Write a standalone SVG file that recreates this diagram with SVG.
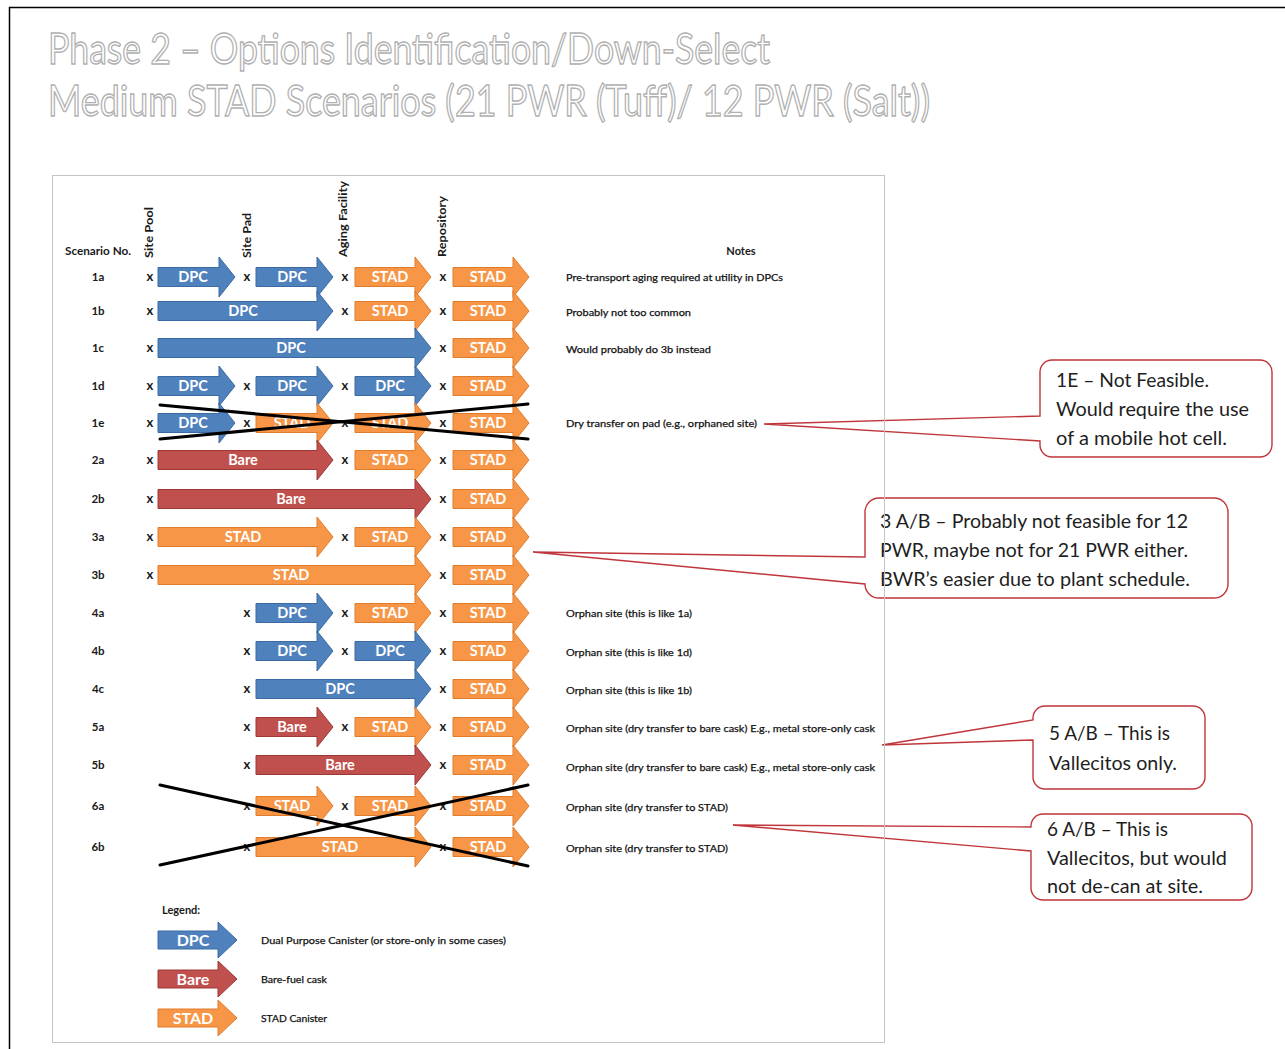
<svg xmlns="http://www.w3.org/2000/svg" xmlns:xlink="http://www.w3.org/1999/xlink" width="1285" height="1049" viewBox="0 0 1285 1049">
  <style>
    text { font-family: Lato, "Open Sans", "Liberation Sans", sans-serif; }
    .title { font-size: 42px; fill: #ffffff; stroke: #b0b0b0; stroke-width: 1.4; }
    .hdr { font-size: 11px; font-weight: bold; fill: #1a1a1a; }
    .rowlbl { font-size: 11.5px; font-weight: bold; fill: #1a1a1a; text-anchor: middle; }
    .xm { font-size: 13px; font-weight: bold; fill: #1a1a1a; text-anchor: middle; }
    .lbl { font-size: 14.5px; font-weight: bold; fill: #ffffff; text-anchor: middle; }
    .lgl { font-size: 16px; font-weight: bold; fill: #ffffff; text-anchor: middle; }
    .note { font-size: 10px; fill: #111; stroke: #111; stroke-width: 0.25; }
    .dpc { fill: #4f81bd; stroke: #3b6aa3; stroke-width: 1; }
    .bare { fill: #c0504d; stroke: #9c3835; stroke-width: 1; }
    .stad { fill: #f79646; stroke: #df7c2c; stroke-width: 1; }
    .strike { stroke: #000; stroke-width: 3; stroke-linecap: round; }
    .callout { fill: #ffffff; stroke: #c0353a; stroke-width: 1.4; }
    .ctext { font-size: 20px; fill: #1e1e1e; }
  </style>
  <defs>
    <!-- arrow shapes, drawn around y = 0 -->
    <path id="aA" d="M158 -9.5H219V-20L235 0L219 20V9.5H158Z"/>
    <path id="aB" d="M256 -9.5H317V-20L333 0L317 20V9.5H256Z"/>
    <path id="aC" d="M355 -9.5H415V-20L431 0L415 20V9.5H355Z"/>
    <path id="aD" d="M453 -9.5H513V-20L529 0L513 20V9.5H453Z"/>
    <path id="aE" d="M158 -9.5H317V-20L333 0L317 20V9.5H158Z"/>
    <path id="aF" d="M158 -9.5H415V-20L431 0L415 20V9.5H158Z"/>
    <path id="aG" d="M256 -9.5H415V-20L431 0L415 20V9.5H256Z"/>
    <path id="aL" d="M158 -9H218V-18L237 0L218 18V9H158Z"/>
  </defs>

  <rect width="1285" height="1049" fill="#ffffff"/>
  <!-- slide frame -->
  <path d="M9.5 1049V7.5H1285" fill="none" stroke="#000" stroke-width="1.5"/>

  <!-- title -->
  <g id="title">
    <text class="title" x="48" y="64" textLength="722" lengthAdjust="spacingAndGlyphs">Phase 2 – Options Identification/Down-Select</text>
    <text class="title" x="48" y="116" textLength="882" lengthAdjust="spacingAndGlyphs">Medium STAD Scenarios (21 PWR (Tuff)/ 12 PWR (Salt))</text>
  </g>

  <!-- table header -->
  <g id="header">
    <text class="hdr" x="65" y="255" textLength="66" lengthAdjust="spacingAndGlyphs">Scenario No.</text>
    <text class="hdr" transform="translate(153,258) rotate(-90)" textLength="51" lengthAdjust="spacingAndGlyphs">Site Pool</text>
    <text class="hdr" transform="translate(251,258) rotate(-90)" textLength="45" lengthAdjust="spacingAndGlyphs">Site Pad</text>
    <text class="hdr" transform="translate(347,257) rotate(-90)" textLength="76" lengthAdjust="spacingAndGlyphs">Aging Facility</text>
    <text class="hdr" transform="translate(446,257) rotate(-90)" textLength="61" lengthAdjust="spacingAndGlyphs">Repository</text>
    <text class="hdr" x="741" y="255" text-anchor="middle">Notes</text>
  </g>

  <!-- scenario rows -->
  <g id="row-1a" transform="translate(0,277)">
    <text class="rowlbl" x="98" y="4">1a</text>
    <text class="xm" x="150" y="4">x</text>
    <use xlink:href="#aA" class="dpc"/><text class="lbl" x="193" y="5">DPC</text>
    <text class="xm" x="247" y="4">x</text>
    <use xlink:href="#aB" class="dpc"/><text class="lbl" x="292" y="5">DPC</text>
    <text class="xm" x="345" y="4">x</text>
    <use xlink:href="#aC" class="stad"/><text class="lbl" x="390" y="5">STAD</text>
    <text class="xm" x="443" y="4">x</text>
    <use xlink:href="#aD" class="stad"/><text class="lbl" x="488" y="5">STAD</text>
    <text class="note" x="566" y="4" textLength="217" lengthAdjust="spacingAndGlyphs">Pre-transport aging required at utility in DPCs</text>
  </g>
  <g id="row-1b" transform="translate(0,311)">
    <text class="rowlbl" x="98" y="4">1b</text>
    <text class="xm" x="150" y="4">x</text>
    <use xlink:href="#aE" class="dpc"/><text class="lbl" x="243" y="5">DPC</text>
    <text class="xm" x="345" y="4">x</text>
    <use xlink:href="#aC" class="stad"/><text class="lbl" x="390" y="5">STAD</text>
    <text class="xm" x="443" y="4">x</text>
    <use xlink:href="#aD" class="stad"/><text class="lbl" x="488" y="5">STAD</text>
    <text class="note" x="566" y="5" textLength="125" lengthAdjust="spacingAndGlyphs">Probably not too common</text>
  </g>
  <g id="row-1c" transform="translate(0,348)">
    <text class="rowlbl" x="98" y="4">1c</text>
    <text class="xm" x="150" y="4">x</text>
    <use xlink:href="#aF" class="dpc"/><text class="lbl" x="291" y="5">DPC</text>
    <text class="xm" x="443" y="4">x</text>
    <use xlink:href="#aD" class="stad"/><text class="lbl" x="488" y="5">STAD</text>
    <text class="note" x="566" y="5" textLength="145" lengthAdjust="spacingAndGlyphs">Would probably do 3b instead</text>
  </g>
  <g id="row-1d" transform="translate(0,386)">
    <text class="rowlbl" x="98" y="4">1d</text>
    <text class="xm" x="150" y="4">x</text>
    <use xlink:href="#aA" class="dpc"/><text class="lbl" x="193" y="5">DPC</text>
    <text class="xm" x="247" y="4">x</text>
    <use xlink:href="#aB" class="dpc"/><text class="lbl" x="292" y="5">DPC</text>
    <text class="xm" x="345" y="4">x</text>
    <use xlink:href="#aC" class="dpc"/><text class="lbl" x="390" y="5">DPC</text>
    <text class="xm" x="443" y="4">x</text>
    <use xlink:href="#aD" class="stad"/><text class="lbl" x="488" y="5">STAD</text>
  </g>
  <g id="row-1e" transform="translate(0,423)">
    <text class="rowlbl" x="98" y="4">1e</text>
    <text class="xm" x="150" y="4">x</text>
    <use xlink:href="#aA" class="dpc"/><text class="lbl" x="193" y="5">DPC</text>
    <text class="xm" x="247" y="4">x</text>
    <use xlink:href="#aB" class="stad"/><text class="lbl" x="292" y="5">STAD</text>
    <text class="xm" x="345" y="4">x</text>
    <use xlink:href="#aC" class="stad"/><text class="lbl" x="390" y="5">STAD</text>
    <text class="xm" x="443" y="4">x</text>
    <use xlink:href="#aD" class="stad"/><text class="lbl" x="488" y="5">STAD</text>
    <text class="note" x="566" y="4" textLength="191" lengthAdjust="spacingAndGlyphs">Dry transfer on pad (e.g., orphaned site)</text>
  </g>
  <g id="row-2a" transform="translate(0,460)">
    <text class="rowlbl" x="98" y="4">2a</text>
    <text class="xm" x="150" y="4">x</text>
    <use xlink:href="#aE" class="bare"/><text class="lbl" x="243" y="5">Bare</text>
    <text class="xm" x="345" y="4">x</text>
    <use xlink:href="#aC" class="stad"/><text class="lbl" x="390" y="5">STAD</text>
    <text class="xm" x="443" y="4">x</text>
    <use xlink:href="#aD" class="stad"/><text class="lbl" x="488" y="5">STAD</text>
  </g>
  <g id="row-2b" transform="translate(0,499)">
    <text class="rowlbl" x="98" y="4">2b</text>
    <text class="xm" x="150" y="4">x</text>
    <use xlink:href="#aF" class="bare"/><text class="lbl" x="291" y="5">Bare</text>
    <text class="xm" x="443" y="4">x</text>
    <use xlink:href="#aD" class="stad"/><text class="lbl" x="488" y="5">STAD</text>
  </g>
  <g id="row-3a" transform="translate(0,537)">
    <text class="rowlbl" x="98" y="4">3a</text>
    <text class="xm" x="150" y="4">x</text>
    <use xlink:href="#aE" class="stad"/><text class="lbl" x="243" y="5">STAD</text>
    <text class="xm" x="345" y="4">x</text>
    <use xlink:href="#aC" class="stad"/><text class="lbl" x="390" y="5">STAD</text>
    <text class="xm" x="443" y="4">x</text>
    <use xlink:href="#aD" class="stad"/><text class="lbl" x="488" y="5">STAD</text>
  </g>
  <g id="row-3b" transform="translate(0,575)">
    <text class="rowlbl" x="98" y="4">3b</text>
    <text class="xm" x="150" y="4">x</text>
    <use xlink:href="#aF" class="stad"/><text class="lbl" x="291" y="5">STAD</text>
    <text class="xm" x="443" y="4">x</text>
    <use xlink:href="#aD" class="stad"/><text class="lbl" x="488" y="5">STAD</text>
  </g>
  <g id="row-4a" transform="translate(0,613)">
    <text class="rowlbl" x="98" y="4">4a</text>
    <text class="xm" x="247" y="4">x</text>
    <use xlink:href="#aB" class="dpc"/><text class="lbl" x="292" y="5">DPC</text>
    <text class="xm" x="345" y="4">x</text>
    <use xlink:href="#aC" class="stad"/><text class="lbl" x="390" y="5">STAD</text>
    <text class="xm" x="443" y="4">x</text>
    <use xlink:href="#aD" class="stad"/><text class="lbl" x="488" y="5">STAD</text>
    <text class="note" x="566" y="4" textLength="126" lengthAdjust="spacingAndGlyphs">Orphan site (this is like 1a)</text>
  </g>
  <g id="row-4b" transform="translate(0,651)">
    <text class="rowlbl" x="98" y="4">4b</text>
    <text class="xm" x="247" y="4">x</text>
    <use xlink:href="#aB" class="dpc"/><text class="lbl" x="292" y="5">DPC</text>
    <text class="xm" x="345" y="4">x</text>
    <use xlink:href="#aC" class="dpc"/><text class="lbl" x="390" y="5">DPC</text>
    <text class="xm" x="443" y="4">x</text>
    <use xlink:href="#aD" class="stad"/><text class="lbl" x="488" y="5">STAD</text>
    <text class="note" x="566" y="5" textLength="126" lengthAdjust="spacingAndGlyphs">Orphan site (this is like 1d)</text>
  </g>
  <g id="row-4c" transform="translate(0,689)">
    <text class="rowlbl" x="98" y="4">4c</text>
    <text class="xm" x="247" y="4">x</text>
    <use xlink:href="#aG" class="dpc"/><text class="lbl" x="340" y="5">DPC</text>
    <text class="xm" x="443" y="4">x</text>
    <use xlink:href="#aD" class="stad"/><text class="lbl" x="488" y="5">STAD</text>
    <text class="note" x="566" y="5" textLength="126" lengthAdjust="spacingAndGlyphs">Orphan site (this is like 1b)</text>
  </g>
  <g id="row-5a" transform="translate(0,727)">
    <text class="rowlbl" x="98" y="4">5a</text>
    <text class="xm" x="247" y="4">x</text>
    <use xlink:href="#aB" class="bare"/><text class="lbl" x="292" y="5">Bare</text>
    <text class="xm" x="345" y="4">x</text>
    <use xlink:href="#aC" class="stad"/><text class="lbl" x="390" y="5">STAD</text>
    <text class="xm" x="443" y="4">x</text>
    <use xlink:href="#aD" class="stad"/><text class="lbl" x="488" y="5">STAD</text>
    <text class="note" x="566" y="5" textLength="309" lengthAdjust="spacingAndGlyphs">Orphan site (dry transfer to bare cask) E.g., metal store-only cask</text>
  </g>
  <g id="row-5b" transform="translate(0,765)">
    <text class="rowlbl" x="98" y="4">5b</text>
    <text class="xm" x="247" y="4">x</text>
    <use xlink:href="#aG" class="bare"/><text class="lbl" x="340" y="5">Bare</text>
    <text class="xm" x="443" y="4">x</text>
    <use xlink:href="#aD" class="stad"/><text class="lbl" x="488" y="5">STAD</text>
    <text class="note" x="566" y="6" textLength="309" lengthAdjust="spacingAndGlyphs">Orphan site (dry transfer to bare cask) E.g., metal store-only cask</text>
  </g>
  <g id="row-6a" transform="translate(0,806)">
    <text class="rowlbl" x="98" y="4">6a</text>
    <text class="xm" x="247" y="4">x</text>
    <use xlink:href="#aB" class="stad"/><text class="lbl" x="292" y="5">STAD</text>
    <text class="xm" x="345" y="4">x</text>
    <use xlink:href="#aC" class="stad"/><text class="lbl" x="390" y="5">STAD</text>
    <text class="xm" x="443" y="4">x</text>
    <use xlink:href="#aD" class="stad"/><text class="lbl" x="488" y="5">STAD</text>
    <text class="note" x="566" y="5" textLength="162" lengthAdjust="spacingAndGlyphs">Orphan site (dry transfer to STAD)</text>
  </g>
  <g id="row-6b" transform="translate(0,847)">
    <text class="rowlbl" x="98" y="4">6b</text>
    <text class="xm" x="247" y="4">x</text>
    <use xlink:href="#aG" class="stad"/><text class="lbl" x="340" y="5">STAD</text>
    <text class="xm" x="443" y="4">x</text>
    <use xlink:href="#aD" class="stad"/><text class="lbl" x="488" y="5">STAD</text>
    <text class="note" x="566" y="5" textLength="162" lengthAdjust="spacingAndGlyphs">Orphan site (dry transfer to STAD)</text>
  </g>

  <!-- crossed-out scenarios -->
  <g id="strikes">
    <line class="strike" x1="160" y1="405" x2="528" y2="439"/>
    <line class="strike" x1="160" y1="439" x2="528" y2="404"/>
    <line class="strike" x1="160" y1="785" x2="528" y2="866"/>
    <line class="strike" x1="160" y1="865" x2="528" y2="785"/>
  </g>

  <!-- legend -->
  <g id="legend">
    <text class="hdr" x="162" y="914">Legend:</text>
    <g transform="translate(0,940)">
      <use xlink:href="#aL" class="dpc"/><text class="lgl" x="193" y="6">DPC</text>
      <text class="note" x="261" y="4" textLength="245" lengthAdjust="spacingAndGlyphs">Dual Purpose Canister (or store-only in some cases)</text>
    </g>
    <g transform="translate(0,979)">
      <use xlink:href="#aL" class="bare"/><text class="lgl" x="193" y="6">Bare</text>
      <text class="note" x="261" y="4" textLength="66" lengthAdjust="spacingAndGlyphs">Bare-fuel cask</text>
    </g>
    <g transform="translate(0,1018)">
      <use xlink:href="#aL" class="stad"/><text class="lgl" x="193" y="6">STAD</text>
      <text class="note" x="261" y="4" textLength="66" lengthAdjust="spacingAndGlyphs">STAD Canister</text>
    </g>
  </g>

  <!-- callouts -->
  <g id="callout-1e">
    <path class="callout" d="M1052 360H1260A12 12 0 0 1 1272 372V445A12 12 0 0 1 1260 457H1052A12 12 0 0 1 1040 445V441L764 424L1040 416V372A12 12 0 0 1 1052 360Z"/>
    <text class="ctext" x="1056" y="387" textLength="153" lengthAdjust="spacingAndGlyphs">1E – Not Feasible.</text>
    <text class="ctext" x="1056" y="416" textLength="193" lengthAdjust="spacingAndGlyphs">Would require the use</text>
    <text class="ctext" x="1056" y="445" textLength="171" lengthAdjust="spacingAndGlyphs">of a mobile hot cell.</text>
  </g>
  <g id="callout-3ab">
    <path class="callout" d="M879 498H1214A14 14 0 0 1 1228 512V584A14 14 0 0 1 1214 598H879A14 14 0 0 1 865 584V584L533 552L865 557V512A14 14 0 0 1 879 498Z"/>
    <text class="ctext" x="880" y="528" textLength="308" lengthAdjust="spacingAndGlyphs">3 A/B – Probably not feasible for 12</text>
    <text class="ctext" x="880" y="557" textLength="308" lengthAdjust="spacingAndGlyphs">PWR, maybe not for 21 PWR either.</text>
    <text class="ctext" x="880" y="586" textLength="310" lengthAdjust="spacingAndGlyphs">BWR’s easier due to plant schedule.</text>
  </g>
  <g id="callout-5ab">
    <path class="callout" d="M1045 706H1193A12 12 0 0 1 1205 718V777A12 12 0 0 1 1193 789H1045A12 12 0 0 1 1033 777V740L882 745L1033 720V718A12 12 0 0 1 1045 706Z"/>
    <text class="ctext" x="1049" y="740" textLength="121" lengthAdjust="spacingAndGlyphs">5 A/B – This is</text>
    <text class="ctext" x="1049" y="770" textLength="128" lengthAdjust="spacingAndGlyphs">Vallecitos only.</text>
  </g>
  <g id="callout-6ab">
    <path class="callout" d="M1043 814H1240A12 12 0 0 1 1252 826V888A12 12 0 0 1 1240 900H1043A12 12 0 0 1 1031 888V851L733 825L1031 827V826A12 12 0 0 1 1043 814Z"/>
    <text class="ctext" x="1047" y="836" textLength="121" lengthAdjust="spacingAndGlyphs">6 A/B – This is</text>
    <text class="ctext" x="1047" y="865" textLength="180" lengthAdjust="spacingAndGlyphs">Vallecitos, but would</text>
    <text class="ctext" x="1047" y="893" textLength="156" lengthAdjust="spacingAndGlyphs">not de-can at site.</text>
  </g>

  <!-- table frame, drawn last so its edge shows through the 3 A/B box -->
  <rect x="52.5" y="175.5" width="832" height="867" fill="none" stroke="#c4c4c4" stroke-width="1"/>
</svg>
